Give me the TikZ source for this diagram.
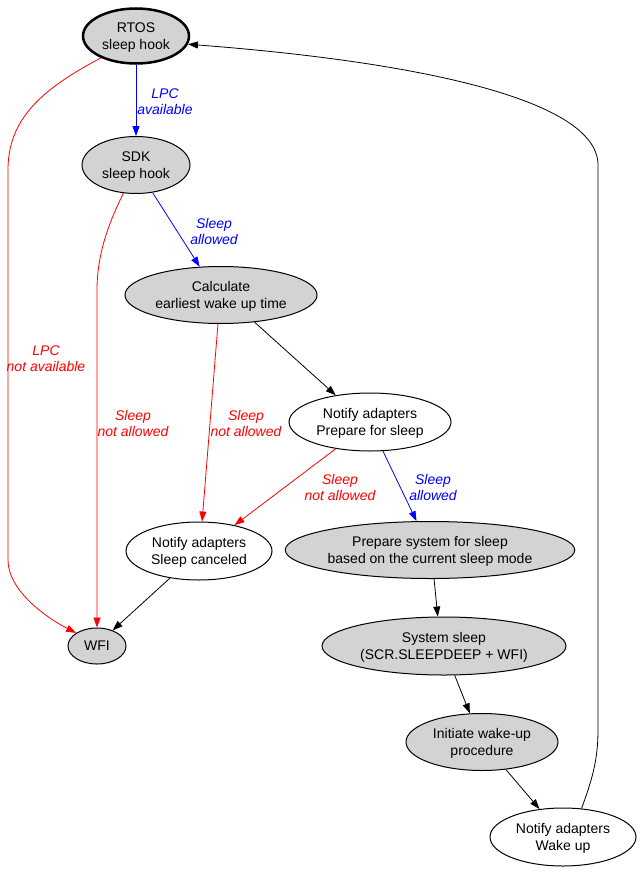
\documentclass[tikz,border=0pt]{standalone}
\usepackage{fontspec}
\setmainfont{Liberation Sans}
\usetikzlibrary{shapes.geometric,arrows.meta}
\definecolor{gfill}{RGB}{211,211,211}
\definecolor{gblue}{RGB}{0,0,255}
\definecolor{gred}{RGB}{255,0,0}
\tikzset{
  st/.style={ellipse, draw=black, line width=1pt, inner sep=0pt, align=center,
    text depth=-2.5pt, font=\fontsize{14}{16.5}\selectfont},
  gray/.style={st, fill=gfill},
  white/.style={st, fill=white},
  lbl/.style={align=center, inner sep=0pt, font=\fontsize{14}{16}\selectfont\itshape},
  edge/.style={line width=0.8pt, -{Triangle[length=10pt,width=7pt]}},
  bedge/.style={edge, draw=gblue},
  redge/.style={edge, draw=gred},
  kedge/.style={edge, draw=black},
}
\begin{document}
\begin{tikzpicture}[x=1pt,y=-1pt]
\useasboundingbox (0,0) rectangle (642,875);
\node[gray, line width=2.5pt, minimum width=106, minimum height=55] (rtos) at (136,36) {RTOS\\sleep hook};
\node[gray, minimum width=108, minimum height=57] (sdk) at (136,165) {SDK\\sleep hook};
\node[gray, minimum width=192, minimum height=57] (calc) at (221,295) {Calculate\\earliest wake up time};
\node[white, minimum width=162, minimum height=58] (prep) at (370,422) {Notify adapters\\Prepare for sleep};
\node[white, minimum width=146, minimum height=58] (canc) at (199,551) {Notify adapters\\Sleep canceled};
\node[gray, minimum width=58, minimum height=36] (wfi) at (97,646) {WFI};
\node[gray, minimum width=284, minimum height=57] (psys) at (430,550) {Prepare system for sleep\\based on the current sleep mode};
\node[gray, minimum width=244, minimum height=58] (ssl) at (444,646) {System sleep\\(SCR.SLEEPDEEP + WFI)};
\node[gray, minimum width=152, minimum height=57] (init) at (482,742) {Initiate wake-up\\procedure};
\node[white, minimum width=146, minimum height=58] (wake) at (563,837) {Notify adapters\\Wake up};

\node[lbl, text=gblue] (l1) at (165,102) {LPC\\available};
\node[lbl, text=gblue] (l2) at (214,231) {Sleep\\allowed};
\node[lbl, text=gred] (l3) at (46,359) {LPC\\not available};
\node[lbl, text=gred] (l4) at (133,423) {Sleep\\not allowed};
\node[lbl, text=gred] (l5) at (246,423) {Sleep\\not allowed};
\node[lbl, text=gred] (l6) at (340,487) {Sleep\\not allowed};
\node[lbl, text=gblue] (l7) at (433,487) {Sleep\\allowed};

\coordinate (c1) at (8,170);
\coordinate (c2) at (8,560);
\coordinate (c3) at (97,290);
\coordinate (c4) at (598,730);
\coordinate (c5) at (598,165);

\draw[bedge] (rtos.south) -- (sdk.north);
\draw[bedge] (sdk.-59) -- (calc.127);
\draw[redge] (rtos.-148) .. controls (40,90) and (8,120) .. (c1) -- (c2) .. controls (8,590) and (45,617) .. (wfi.148);
\draw[redge] (sdk.-114) .. controls (105,230) and (97,260) .. (c3) -- (wfi.north);
\draw[redge] (calc.-96) -- (canc.84);
\draw[kedge] (calc.-39) -- (prep.142);
\draw[redge] (prep.-142) -- (canc.36);
\draw[bedge] (prep.-66) -- (psys.115);
\draw[kedge] (canc.-137) -- (wfi.45);
\draw[kedge] (psys.-82) -- (ssl.102);
\draw[kedge] (ssl.-70) -- (init.113);
\draw[kedge] (init.-49) -- (wake.130);
\draw[kedge] (wake.57) .. controls (592,780) and (598,760) .. (c4) -- (c5) .. controls (598,100) and (420,62) .. (rtos.-9);
\end{tikzpicture}
\end{document}
